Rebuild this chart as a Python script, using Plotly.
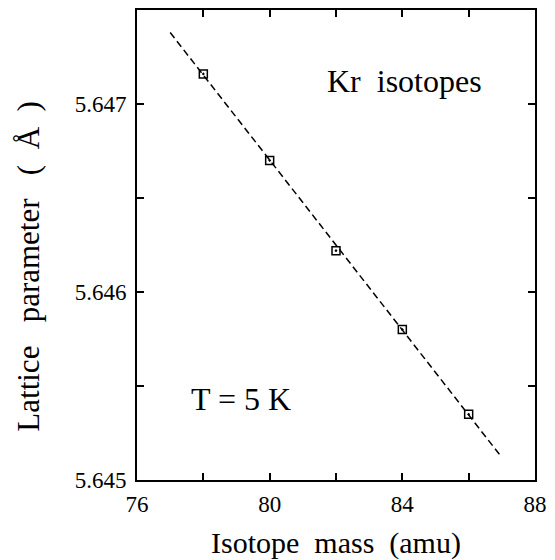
import plotly.graph_objects as go

mass = [78, 80, 82, 84, 86]
lattice = [5.64716, 5.64670, 5.64622, 5.64580, 5.64535]
fit_mass = [77.0, 87.0]
fit_lattice = [5.64738, 5.64512]

FONT = "Liberation Serif"
NB = "\u00a0"

fig = go.Figure()
fig.add_trace(go.Scatter(x=fit_mass, y=fit_lattice, mode="lines",
                         line=dict(color="black", width=1.5, dash="7px,4px"),
                         showlegend=False, hoverinfo="skip"))
fig.add_trace(go.Scatter(x=mass, y=lattice, mode="markers",
                         marker=dict(symbol="square-open-dot", size=8, color="black",
                                     line=dict(width=1.5, color="black")),
                         showlegend=False))

axis_common = dict(showline=True, linecolor="black", linewidth=2, mirror="ticks",
                   ticks="inside", ticklen=7, tickwidth=2, tickcolor="black",
                   showgrid=False, zeroline=False,
                   tickfont=dict(family=FONT, size=23, color="black"))

fig.update_xaxes(range=[76, 88], tickvals=[76, 80, 84, 88],
                 minor=dict(tickvals=[78, 82, 86], ticks="inside", ticklen=7,
                            tickwidth=2, tickcolor="black"),
                 ticklabelstandoff=2,
                 **axis_common)
fig.update_yaxes(range=[5.645, 5.6475], tickvals=[5.645, 5.646, 5.647],
                 ticktext=["5.645", "5.646", "5.647"],
                 minor=dict(tickvals=[5.6455, 5.6465], ticks="inside", ticklen=7,
                            tickwidth=2, tickcolor="black"),
                 ticklabelstandoff=4,
                 **axis_common)

fig.add_annotation(text=f"Isotope{NB*2}mass{NB*2}(amu)", xref="paper", yref="paper",
                   x=0.499, y=-0.1335, yanchor="middle", xanchor="center",
                   showarrow=False, font=dict(family=FONT, size=30, color="black"))
fig.add_annotation(text=f"Lattice{NB*3}parameter{NB*3}({NB*2}Å{NB*2})",
                   xref="paper", yref="paper",
                   x=-0.272, y=0.4555, textangle=-90, xanchor="center", yanchor="middle",
                   showarrow=False, font=dict(family=FONT, size=31, color="black"))
fig.add_annotation(text=f"Kr{NB*2}isotopes", xref="paper", yref="paper",
                   x=0.672, y=0.85, xanchor="center", yanchor="middle",
                   showarrow=False, font=dict(family=FONT, size=32, color="black"))
fig.add_annotation(text="T = 5 K", xref="paper", yref="paper",
                   x=0.2625, y=0.1716, xanchor="center", yanchor="middle",
                   showarrow=False, font=dict(family=FONT, size=32, color="black"))

fig.update_layout(width=555, height=560,
                  margin=dict(l=137, r=13, t=8, b=80),
                  font=dict(family=FONT, color="black"),
                  plot_bgcolor="white", paper_bgcolor="white")

fig.write_html("out.html", config={"displayModeBar": False},
               post_script="document.body.style.margin='0';document.body.style.padding='0';")
